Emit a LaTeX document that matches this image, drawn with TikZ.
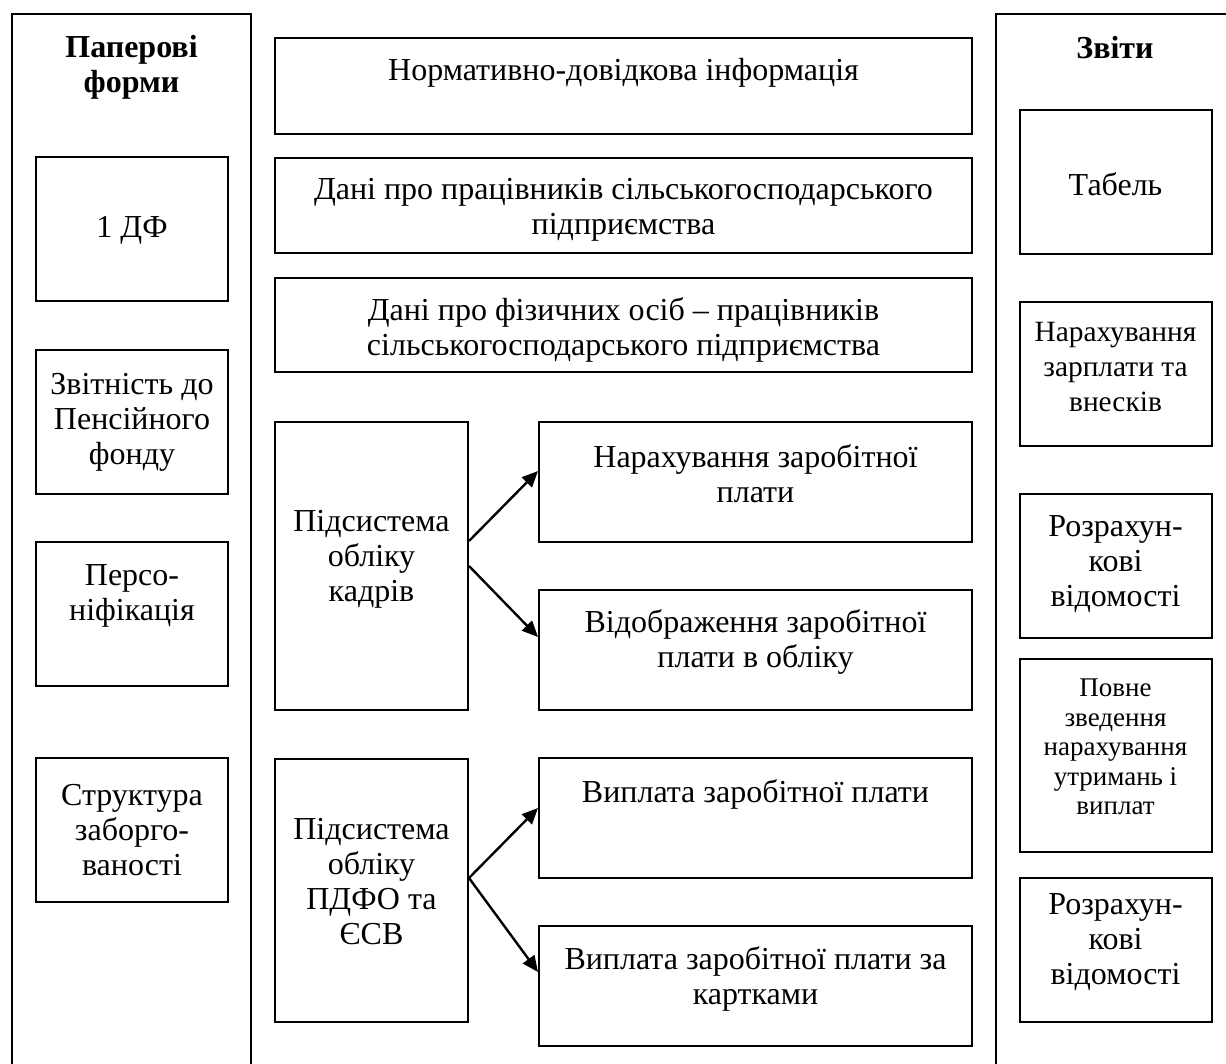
\documentclass[tikz,border=0pt]{standalone}
\usepackage{fontspec}
\setmainfont{Liberation Serif}
\usetikzlibrary{arrows.meta}
\begin{document}
\begin{tikzpicture}[x=0.5pt,y=-0.5pt]
\tikzset{
    >={Triangle[length=8pt,width=7pt]},
    strilka/.style={->, line width=1.2pt},
    ramka/.style={rectangle, line width=1pt, draw=black, inner sep=0pt},
    kvadrat/.style={ramka, minimum width=96pt, minimum height=72pt},
    napys/.style={align=center, inner sep=0pt, font=\fontsize{16}{17.5}\selectfont},
    dribnyi/.style={align=center, inner sep=0pt, font=\fontsize{13.5}{14.8}\selectfont}
}
\useasboundingbox (0,0) rectangle (1226,1064);
\clip (0,0) rectangle (1226,1064);
% kolonky
\node[ramka, minimum width=119.5pt, minimum height=543pt] (papir) at (131.5,557) {};
\node[ramka, minimum width=119pt,   minimum height=543pt] (zvity) at (1115,557) {};
\node[napys] (papir-t) at (131.5,67) {\textbf{Паперові}\\\textbf{форми}};
\node[napys] (zvity-t) at (1115,48) {\textbf{Звіти}};
% paperovi formy
\node[kvadrat] (df)   at (132,229.5) {};
\node[kvadrat] (pf)   at (132,422)   {};
\node[kvadrat] (pers) at (132,614)   {};
\node[kvadrat] (borg) at (132,830)   {};
\node[napys] (df-t)   at (132,230) {1 ДФ};
\node[napys] (pf-t)   at (132,422) {Звітність до\\Пенсійного\\фонду};
\node[napys] (pers-t) at (132,596) {Персо-\\ніфікація};
\node[napys] (borg-t) at (132,830) {Структура\\заборго-\\ваності};
% zvity
\node[kvadrat] (tab)   at (1115.5,182) {};
\node[kvadrat] (narzp) at (1115.5,374) {};
\node[kvadrat] (rozr1) at (1115.5,566) {};
\node[kvadrat, minimum height=96.5pt] (povne) at (1115.5,755.5) {};
\node[kvadrat] (rozr2) at (1115.5,950) {};
\node[napys]   (tab-t)   at (1115.5,184) {Табель};
\node[napys, font=\fontsize{14.7}{17.5}\selectfont] (narzp-t) at (1115.5,367) {Нарахування\\зарплати та\\внесків};
\node[napys]   (rozr1-t) at (1115.5,564) {Розрахун-\\кові\\відомості};
\node[dribnyi] (povne-t) at (1115.5,747) {Повне\\зведення\\нарахування\\утримань і\\виплат};
\node[napys]   (rozr2-t) at (1115.5,942) {Розрахун-\\кові\\відомості};
% dovidnyky
\node[ramka, minimum width=348.5pt, minimum height=48pt]   (nsi)  at (623.5,86)    {};
\node[ramka, minimum width=348.5pt, minimum height=47.5pt] (dani) at (623.5,205.5) {};
\node[ramka, minimum width=348.5pt, minimum height=47pt]   (fiz)  at (623.5,325)   {};
\node[napys] (nsi-t)  at (623.5,73)  {Нормативно-довідкова інформація};
\node[napys] (dani-t) at (623.5,210) {Дані про працівників сільськогосподарського\\підприємства};
\node[napys] (fiz-t)  at (623.5,330) {Дані про фізичних осіб – працівників\\сільськогосподарського підприємства};
% pidsystemy
\node[ramka, minimum width=96.5pt, minimum height=144pt]   (kad)  at (371.5,566)   {};
\node[ramka, minimum width=96.5pt, minimum height=131.5pt] (pdfo) at (371.5,890.5) {};
\node[napys] (kad-t)  at (371.5,559) {Підсистема\\обліку\\кадрів};
\node[napys] (pdfo-t) at (371.5,882) {Підсистема\\обліку\\ПДФО та\\ЄСВ};
\node[ramka, minimum width=216.5pt, minimum height=60pt] (narah)  at (755.5,482) {};
\node[ramka, minimum width=216.5pt, minimum height=60pt] (vidobr) at (755.5,650) {};
\node[ramka, minimum width=216.5pt, minimum height=60pt] (vypl)   at (755.5,818) {};
\node[ramka, minimum width=216.5pt, minimum height=60pt] (kart)   at (755.5,986) {};
\node[napys] (narah-t)  at (755.5,474) {Нарахування заробітної\\плати};
\node[napys] (vidobr-t) at (755.5,642) {Відображення заробітної\\плати в обліку};
\node[napys] (vypl-t)   at (755.5,794) {Виплата заробітної плати};
\node[napys] (kart-t)   at (755.5,979) {Виплата заробітної плати за\\картками};
\draw[strilka] ([yshift=12.5pt]kad.east) -- ([yshift=5.5pt]narah.west);
\draw[strilka] (kad.east) -- ([yshift=6.5pt]vidobr.west);
\draw[strilka] ([yshift=6.25pt]pdfo.east) -- ([yshift=5pt]vypl.west);
\draw[strilka] ([yshift=6.25pt]pdfo.east) -- ([yshift=7pt]kart.west);
\end{tikzpicture}
\end{document}
